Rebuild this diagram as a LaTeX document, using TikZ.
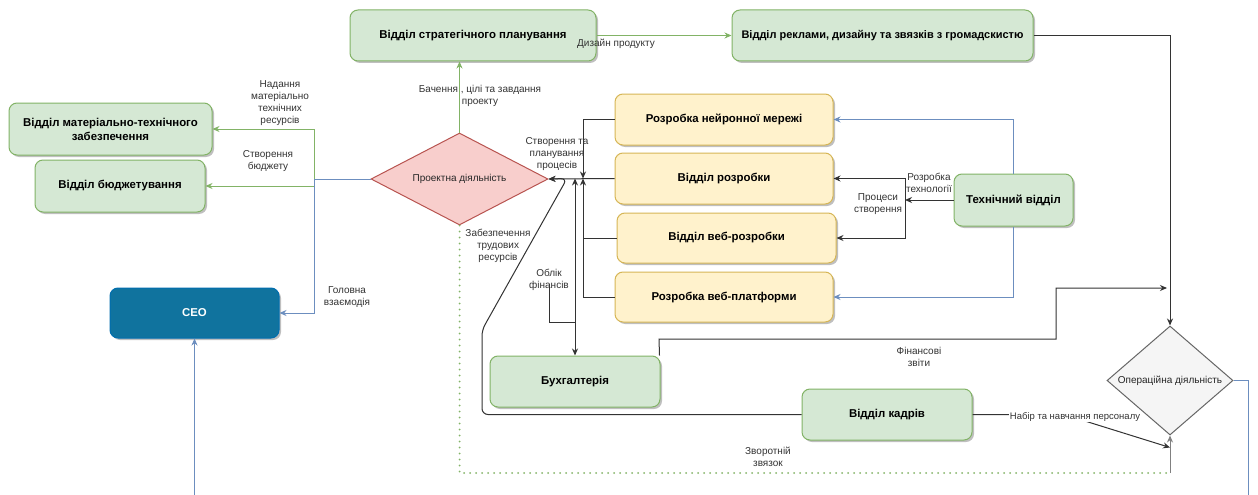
\documentclass[tikz,border=0pt]{standalone}
\usepackage{fontspec}
\setmainfont{Liberation Sans}
\usetikzlibrary{arrows.meta,shapes.geometric,shadows,calc}
\definecolor{gfill}{HTML}{D5E8D4}\definecolor{gline}{HTML}{82B366}
\definecolor{yfill}{HTML}{FFF2CC}\definecolor{yline}{HTML}{D6B656}
\definecolor{rfill}{HTML}{F8CECC}\definecolor{rline}{HTML}{B85450}
\definecolor{ofill}{HTML}{F5F5F5}\definecolor{oline}{HTML}{666666}
\definecolor{ceofill}{HTML}{10739E}\definecolor{ceoline}{HTML}{006EAF}
\definecolor{bline}{HTML}{6C8EBF}
\definecolor{kline}{HTML}{333333}
\tikzset{
  box/.style={rectangle, rounded corners=8pt, draw, line width=1pt, align=center,
    font=\fontsize{11.4}{14}\selectfont\bfseries, inner sep=2pt,
    drop shadow={shadow xshift=2pt, shadow yshift=-2pt, opacity=0.25, fill=black}},
  gbox/.style={box, fill=gfill, draw=gline},
  ybox/.style={box, fill=yfill, draw=yline},
  ceobox/.style={box, fill=ceofill, draw=ceoline, text=white},
  dia/.style={diamond, draw, line width=1pt, inner sep=0pt, aspect=1.9,
    font=\fontsize{10}{12}\selectfont, text=black!85},
  lbl/.style={font=\fontsize{10}{12}\selectfont, align=center, text=black!80, inner sep=1pt},
  tip/.style={-{Stealth[length=7pt,width=6pt]}},
  kedge/.style={line width=1pt, draw=kline, tip},
  kplain/.style={line width=1pt, draw=kline},
  gedge/.style={line width=1pt, draw=gline, tip},
  bedge/.style={line width=1pt, draw=bline, tip},
  bplain/.style={line width=1pt, draw=bline},
}
\begin{document}
\begin{tikzpicture}[x=1pt,y=-1pt]
\clip (0,0) rectangle (1258,495);
\fill[white] (0,0) rectangle (1258,495);

% nodes
\node[gbox, minimum width=246pt, minimum height=51pt] (strat) at (473,35.5) {Відділ стратегічного планування};
\node[gbox, minimum width=301pt, minimum height=51pt, font=\fontsize{11}{14}\selectfont\bfseries] (rek) at (882.5,35.5) {Відділ реклами, дизайну та звязків з громадскистю};
\node[gbox, minimum width=203pt, minimum height=52pt] (mtz) at (110.5,129) {Відділ матеріально-технічного\\забезпечення};
\node[gbox, minimum width=170pt, minimum height=52pt] (bud) at (120,186) {Відділ бюджетування};
\node[ceobox, minimum width=169pt, minimum height=50pt] (ceo) at (194.5,313) {CEO};
\node[dia, fill=rfill, draw=rline, minimum width=177pt, minimum height=92pt] (proj) at (459.5,179) {Проектна діяльність};
\node[ybox, minimum width=218pt, minimum height=51pt] (nn) at (724,119.5) {Розробка нейронної мережі};
\node[ybox, minimum width=218pt, minimum height=51pt] (dev) at (724,178.5) {Відділ розробки};
\node[ybox, minimum width=219pt, minimum height=50pt] (web) at (726.5,238) {Відділ веб-розробки};
\node[ybox, minimum width=218pt, minimum height=50pt] (plat) at (724,297) {Розробка веб-платформи};
\node[gbox, minimum width=119pt, minimum height=52pt] (tech) at (1013.5,200) {Технічний відділ};
\node[gbox, minimum width=170pt, minimum height=51pt] (bux) at (575,381.5) {Бухгалтерія};
\node[gbox, minimum width=170pt, minimum height=51pt] (kad) at (887,414.5) {Відділ кадрів};
\node[dia, fill=ofill, draw=oline, minimum width=126pt, minimum height=109pt] (op) at (1170,380.5) {Операційна діяльність};

% coordinates
\coordinate (j1) at (314,179);
\coordinate (j2) at (905,200);
\coordinate (j3) at (583,178.5);
\coordinate (j4) at (575,178.5);
\coordinate (ob) at (549,284);
\coordinate (ob2) at (575,322);
\coordinate (fin1) at (659,339);
\coordinate (fin2) at (1056,288);
\coordinate (fin3) at (1167,288);
\coordinate (zb1) at (482,414.5);
\coordinate (zb2) at (482,330);
\coordinate (zb3) at (567,178.5);
\coordinate (nb) at (1064,414.5);
\coordinate (fb1) at (459.5,473);
\coordinate (fb2) at (1170,473);
\coordinate (offr) at (1248,380.5);
\coordinate (offb) at (1248,520);

% strat -> rek
\draw[gedge] (strat) -- (rek);
\node[lbl, anchor=west] at (576,44) {Дизайн продукту};

% proj -> strat
\draw[gedge] (proj.north) -- (proj.north |- strat.south);
\node[lbl] at (480,96) {Бачення , цілі та завдання\\проекту};

% rek -> op
\draw[kedge] (rek.east) -| (op.north);

% proj -> mtz / bud / ceo
\draw[gedge] (j1) |- (mtz.east);
\draw[gedge] (j1) |- (bud.east);
\draw[bplain] (proj.west) -- (j1);
\draw[bedge] (j1) |- (ceo.east);
\node[lbl] at (280,103) {Надання\\матеріально\\технічних\\ресурсів};
\node[lbl] at (268,161.5) {Створення\\бюджету};
\node[lbl] at (347,297) {Головна\\взаємодія};

% op -> ceo (leaves the picture)
\draw[bedge] (op.east) -- (offr) -- (offb) -| (ceo.south);

% tech -> nn / plat
\draw[bedge] (tech.north) |- (nn.east);
\draw[bedge] (tech.south) |- (plat.east);

% tech -> dev / web
\draw[kedge] (tech.west) -- (j2);
\draw[kedge] (j2) |- (dev.east);
\draw[kedge] (j2) |- (web.east);
\node[lbl] at (929,183) {Розробка\\технології};
\node[lbl] at (878,204) {Процеси\\створення};

% dev boxes -> proj
\draw[kedge] (dev.west) -- (proj.east);
\draw[kedge] (nn.west) -| (j3);
\draw[kedge] (plat.west) -| (j3);
\draw[kplain] (web.west) -- (web.west -| j3);
\node[lbl] at (557,154) {Створення та\\планування\\процесів};

% bux <-> proj line
\draw[kplain, {Stealth[length=7pt,width=6pt]}-{Stealth[length=7pt,width=6pt]}] (j4) -- (bux.north);
\draw[kplain] (ob) |- (ob2);
\node[lbl] at (549,280) {Облік\\фінансів};

% kad -> proj
\draw[kedge, rounded corners=6pt] (kad.west) -- (zb1) -- (zb2) -- (zb3) -- (proj.east);
\node[lbl] at (498,246) {Забезпечення\\трудових\\ресурсів};

% bux -> op line
\draw[kedge] ($(bux.north east)+(-1,0)$) -- (fin1) -| (fin2) -- (fin3);
\node[lbl] at (919,357) {Фінансові\\звіти};

% kad -> op
\draw[kedge] (kad.east) -- (nb) -- ($(op.south)+(0,12)$);
\node[lbl, fill=white, font=\fontsize{9.5}{11}\selectfont] at (1075,417) {Набір та навчання персоналу};

% feedback
\draw[draw=gline, line width=2pt, line cap=round, dash pattern=on 0pt off 6pt] (proj.south) -- (fb1) -- (fb2);
\draw[line width=1pt, draw=black!50, tip] (fb2) -- (op.south);
\node[lbl] at (768,457) {Зворотній\\звязок};
\end{tikzpicture}
\end{document}
